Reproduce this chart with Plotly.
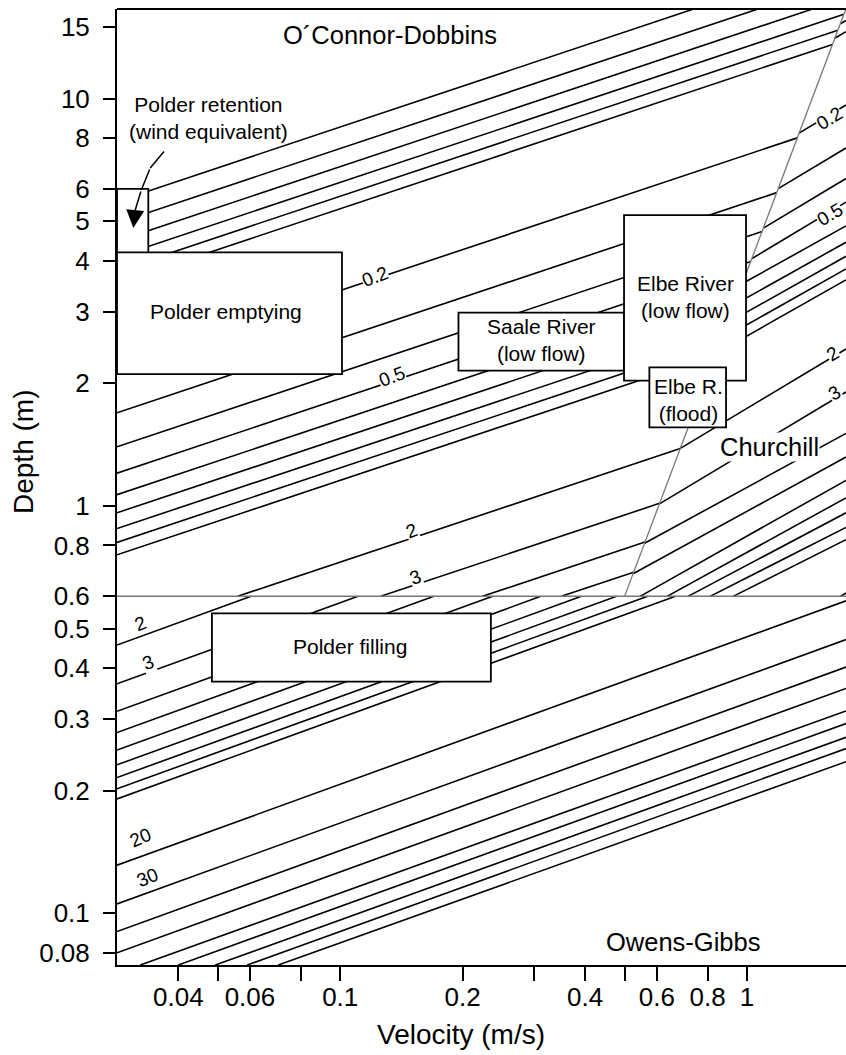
import numpy as np
import plotly.graph_objects as go

# ---------------- data ----------------
# axis extents (velocity m/s, depth m)
v_range = [0.02827, 1.751]
d_range = [0.0747, 16.59]

# O'Connor-Dobbins isolines (k, start point, end point)
od_k = [0.05, 0.06, 0.07, 0.08, 0.09, 0.1, 0.2, 0.3, 0.4, 0.5, 0.6, 0.7, 0.8, 0.9, 1, 2, 3, 4, 5]
od_v0 = [0.02827] * 15 + [0.05594, 0.1258, 0.2237, 0.3497]
od_d0 = [5.589, 4.950, 4.467, 4.087, 3.779, 3.522, 2.218, 1.693, 1.397, 1.204, 1.066, 0.9623, 0.8804, 0.8138, 0.7586,
         0.6, 0.6, 0.6, 0.6]
od_v1 = [0.7391, 1.064, 1.449, 1.730, 1.672, 1.622, 1.329, 1.183, 1.089, 1.021, 0.9689, 0.9268, 0.8919, 0.8622, 0.8365,
         0.6851, 0.6096, 0.5613, 0.5263]
od_d1 = [16.59, 16.59, 16.59, 16.10, 14.72, 13.58, 8.008, 5.877, 4.719, 3.981, 3.464, 3.080, 2.782, 2.543, 2.346,
         1.383, 1.015, 0.8153, 0.6878]

# Churchill isolines
ch_k = [0.09, 0.1, 0.2, 0.3, 0.4, 0.5, 0.6, 0.7, 0.8, 0.9, 1, 2, 3, 4, 5, 6, 7, 8, 9, 10, 20]
ch_v0 = [1.695, 1.643, 1.342, 1.193, 1.097, 1.028, 0.9743, 0.9314, 0.8958, 0.8655, 0.8393, 0.6856, 0.6091, 0.56, 0.5247,
         0.5460, 0.6360, 0.7161, 0.8112, 0.9240, 1.696]
ch_d0 = [15.25, 14.06, 8.225, 6.010, 4.810, 4.048, 3.515, 3.12, 2.814, 2.569, 2.368, 1.385, 1.012, 0.8102, 0.6817,
         0.6, 0.6, 0.6, 0.6, 0.6, 0.6]
ch_v1 = [1.751] * 21
ch_d1 = [15.55, 14.60, 9.641, 7.562, 6.367, 5.57, 4.87, 4.44, 4.10, 3.82, 3.59, 2.428, 1.905, 1.507, 1.319,
         1.156, 1.047, 0.962, 0.886, 0.827, 0.6117]

# Owens-Gibbs isolines
og_k = [2, 3, 4, 5, 6, 7, 8, 9, 10, 20, 30, 40, 50, 60, 70, 80, 90, 100]
og_v0 = [0.02827] * 13 + [0.03226, 0.0400, 0.04931, 0.05908, 0.07043]
og_d0 = [0.4558, 0.3661, 0.3134, 0.2778, 0.2517, 0.2316, 0.2155, 0.2022, 0.191, 0.1313, 0.1055, 0.09027, 0.08001,
         0.0747, 0.0747, 0.0747, 0.0747, 0.0747]
og_v1 = [0.06038, 0.1106, 0.1699, 0.237, 0.3112, 0.3917, 0.4781, 0.57, 0.667] + [1.751] * 9
og_d1 = [0.6] * 9 + [0.5851, 0.4699, 0.4023, 0.3566, 0.3140, 0.2923, 0.2705, 0.2538, 0.2356]

# method boundaries
bnd_v = [0.5, 1.75]
bnd_d = [0.6, 16.6]
og_limit_v = [0.02827, 1.751]
og_limit_d = [0.6, 0.6]

# isoline labels
lab_text = ['0.2', '0.5', '2', '3', '2', '3', '20', '30', '0.2', '0.5', '2', '3']
lab_v = [0.1219, 0.1342, 0.150, 0.1528, 0.0323, 0.03375, 0.0323, 0.03356, 1.590, 1.599, 1.626, 1.645]
lab_d = [3.65, 2.073, 0.873, 0.669, 0.516, 0.4118, 0.1532, 0.1222, 8.96, 5.18, 2.374, 1.90]
lab_ang = [-21, -21, -21, -21, -21, -21, -23, -23, -31, -31, -31, -31]

# application ranges (boxes)
box_text = ['', 'Polder emptying', 'Saale River<br>(low flow)', 'Elbe River<br>(low flow)', 'Elbe R.<br>(flood)',
            'Polder filling']
box_v0 = [0.02827, 0.02827, 0.1953, 0.4985, 0.5754, 0.04838]
box_v1 = [0.03375, 0.1010, 0.4985, 0.9943, 0.8880, 0.2346]
box_d0 = [3.258, 2.108, 2.148, 2.030, 1.560, 0.3706]
box_d1 = [6.0, 4.194, 2.981, 5.177, 2.190, 0.5453]
box_tv = [None, 0.0525, 0.3118, 0.7041, 0.7161, 0.1058]
box_td = [None, 3.01, 2.555, 3.258, 1.820, 0.4508]

# method names
meth_text = ['O´Connor-Dobbins', 'Churchill', 'Owens-Gibbs']
meth_v = [0.1327, 1.133, 0.6963]
meth_d = [14.32, 1.396, 0.0851]
meth_bg = [None, 'white', None]

# polder retention note and curved arrow
note_v, note_d = 0.04739, 8.96
arrow_v = [0.03715, 0.03412, 0.03244, 0.03135, 0.03100]
arrow_d = [7.475, 6.752, 5.965, 5.327, 4.811]

xt = [0.04, 0.05, 0.06, 0.08, 0.1, 0.2, 0.3, 0.4, 0.5, 0.6, 0.8, 1]
xl = ['0.04', '', '0.06', '', '0.1', '0.2', '', '0.4', '', '0.6', '0.8', '1']
yt = [15, 10, 8, 6, 5, 4, 3, 2, 1, 0.8, 0.6, 0.5, 0.4, 0.3, 0.2, 0.1, 0.08]
yl = ['15', '10', '8', '6', '5', '4', '3', '2', '1', '0.8', '0.6', '0.5', '0.4', '0.3', '0.2', '0.1', '0.08']

# ---------------- figure ----------------
FONT = "Liberation Sans, Arial, sans-serif"
L = np.log10
fig = go.Figure()


def add_family(v0, d0, v1, d1):
    for a, b, c, d in zip(v0, d0, v1, d1):
        fig.add_trace(go.Scatter(x=[a, c], y=[b, d], mode='lines', line=dict(color='black', width=1.6),
                                 showlegend=False, hoverinfo='skip'))


add_family(od_v0, od_d0, od_v1, od_d1)
add_family(ch_v0, ch_d0, ch_v1, ch_d1)
add_family(og_v0, og_d0, og_v1, og_d1)

fig.add_trace(go.Scatter(x=bnd_v, y=bnd_d, mode='lines', line=dict(color='#777', width=1.3), showlegend=False))
fig.add_trace(go.Scatter(x=og_limit_v, y=og_limit_d, mode='lines', line=dict(color='#777', width=1.5),
                         showlegend=False))

shapes = []
for x0, x1, y0, y1 in zip(box_v0, box_v1, box_d0, box_d1):
    shapes.append(dict(type='rect', xref='x', yref='y', x0=x0, x1=x1, y0=y0, y1=y1,
                       fillcolor='white', line=dict(color='black', width=1.8), layer='above'))
shapes.append(dict(type='line', xref='paper', yref='paper', x0=0, x1=1, y0=1, y1=1,
                   line=dict(color='black', width=2)))

anns = []


def ann(U, H, text, size=21, angle=0, bg=None):
    d = dict(x=L(U), y=L(H), xref='x', yref='y', text=text, showarrow=False,
             font=dict(family=FONT, size=size, color='black'), textangle=angle)
    if bg:
        d['bgcolor'] = bg
        d['borderpad'] = 0
    anns.append(d)


for t, U, H, a in zip(lab_text, lab_v, lab_d, lab_ang):
    ann(U, H, t, size=19, angle=a, bg='white')
for t, U, H, bg in zip(meth_text, meth_v, meth_d, meth_bg):
    ann(U, H, t, size=25.5, bg=bg)
for t, U, H in zip(box_text, box_tv, box_td):
    if t:
        ann(U, H, t, size=21)
ann(note_v, note_d, 'Polder retention<br>(wind equivalent)', size=21)

# curved arrow drawn as chained annotation arrows (above the boxes)
for i in range(len(arrow_v) - 1):
    last = i == len(arrow_v) - 2
    anns.append(dict(x=L(arrow_v[i + 1]), y=L(arrow_d[i + 1]), ax=L(arrow_v[i]), ay=L(arrow_d[i]),
                     xref='x', yref='y', axref='x', ayref='y', text='', showarrow=True,
                     arrowhead=2 if last else 0, arrowsize=2.4 if last else 1, arrowwidth=1.5,
                     arrowcolor='black', standoff=0, startstandoff=0))

anns.append(dict(x=(24 - 117) / 729, y=(965 - 452) / 956, xref='paper', yref='paper', text='Depth (m)',
                 xanchor='center', yanchor='middle', showarrow=False, textangle=-90,
                 font=dict(family=FONT, size=28, color='black')))
anns.append(dict(x=(461 - 117) / 729, y=(965 - 1034) / 956, xref='paper', yref='paper', text='Velocity (m/s)',
                 xanchor='center', yanchor='middle', showarrow=False,
                 font=dict(family=FONT, size=28, color='black')))

fig.update_layout(width=846, height=1055, margin=dict(l=117, r=0, t=9, b=90), plot_bgcolor='white',
                  paper_bgcolor='white', shapes=shapes, annotations=anns, showlegend=False,
                  font=dict(family=FONT, color='black'))
fig.update_xaxes(type='log', range=[L(v_range[0]), L(v_range[1])], showline=True, linecolor='black', linewidth=2,
                 ticks='outside', ticklen=14, tickwidth=2, tickcolor='black', tickvals=xt, ticktext=xl,
                 tickfont=dict(size=26, family=FONT), showgrid=False, zeroline=False, ticklabelstandoff=-6)
fig.update_yaxes(type='log', range=[L(d_range[0]), L(d_range[1])], showline=True, linecolor='black', linewidth=2,
                 ticks='outside', ticklen=12, tickwidth=2, tickcolor='black', tickvals=yt, ticktext=yl,
                 tickfont=dict(size=26, family=FONT), showgrid=False, zeroline=False, ticklabelstandoff=8)
fig.write_html("out.html")
